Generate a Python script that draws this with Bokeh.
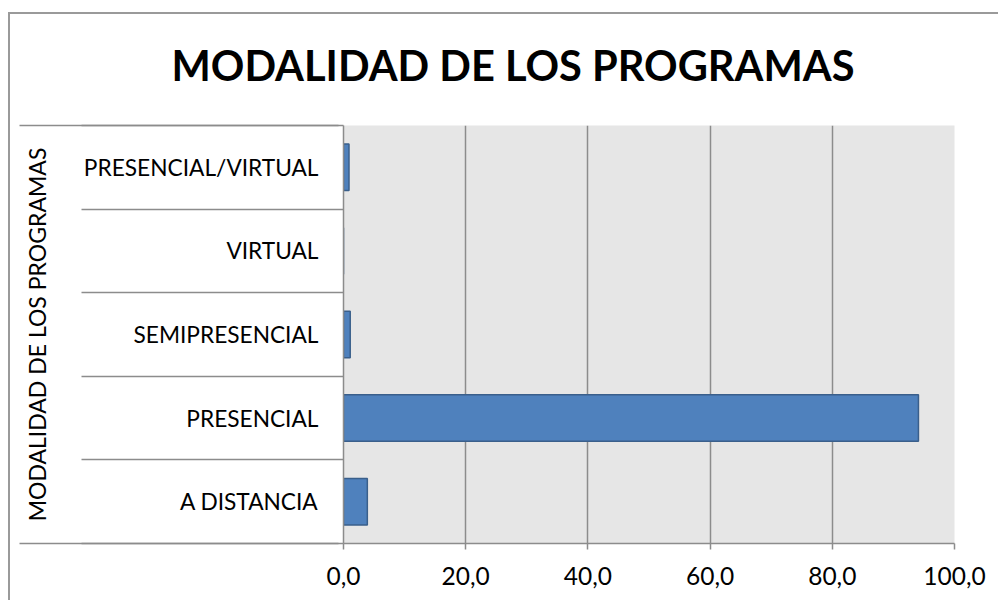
from bokeh.plotting import figure
from bokeh.models import Range1d, FixedTicker, LinearAxis, ColumnDataSource
from bokeh.embed import file_html
from bokeh.resources import INLINE

# ---- data ----
categories = ["A DISTANCIA", "PRESENCIAL", "SEMIPRESENCIAL", "VIRTUAL", "PRESENCIAL/VIRTUAL"]
values = [3.9, 94.1, 1.1, 0.0, 0.9]
x_ticks = [0, 20, 40, 60, 80, 100]
x_tick_labels = ["0,0", "20,0", "40,0", "60,0", "80,0", "100,0"]
chart_title = "MODALIDAD DE LOS PROGRAMAS"
y_axis_title = "MODALIDAD DE LOS PROGRAMAS"

positions = list(range(len(categories)))
boundaries = [i - 0.5 for i in range(len(categories) + 1)]

GRAY = "#8c8c8c"
FONT = "Lato"

p = figure(width=990, height=600,
           x_range=Range1d(x_ticks[0], x_ticks[-1]),
           y_range=Range1d(boundaries[0], boundaries[-1]),
           output_backend="svg", toolbar_location=None,
           min_border_left=335, min_border_right=44,
           min_border_top=125, min_border_bottom=57,
           title=chart_title)
# chart-area border (left and top edges) painted behind a transparent canvas border
p.styles = {
    "margin-left": "8px",
    "background-color": "white",
    "background-image": "linear-gradient(#9a9a9a, #9a9a9a), linear-gradient(#9a9a9a, #9a9a9a)",
    "background-size": "2px 100%, 100% 2px",
    "background-position": "0px 12px, 0px 12px",
    "background-repeat": "no-repeat",
}

p.background_fill_color = "#e6e6e6"
p.border_fill_color = None
p.outline_line_color = None

# title
p.title.text_font = FONT
p.title.text_font_style = "bold"
p.title.text_font_size = "41.6px"
p.title.text_color = "black"
p.title.align = "left"
p.title.offset = -172
p.title.standoff = 72

src = ColumnDataSource(dict(y=positions, right=values))
p.hbar(y="y", left=0, right="right", height=0.556, source=src,
       fill_color="#4f81bd", line_color="#3a5f8b", line_width=1.5)

# grid
p.xgrid.ticker = FixedTicker(ticks=x_ticks)
p.xgrid.grid_line_color = GRAY
p.xgrid.grid_line_width = 1.5
p.ygrid.grid_line_color = None

# x axis
xa = p.xaxis[0]
xa.ticker = FixedTicker(ticks=x_ticks)
xa.major_label_overrides = dict(zip(x_ticks, x_tick_labels))
xa.major_tick_out = 6
xa.major_tick_in = 0
xa.minor_tick_line_color = None
xa.axis_line_color = GRAY
xa.axis_line_width = 1.5
xa.major_tick_line_color = GRAY
xa.major_tick_line_width = 1.5
xa.major_label_standoff = 17
xa.major_label_text_font = FONT
xa.major_label_text_font_size = "24.5px"
xa.major_label_text_color = "black"

# y axis (category labels, separators as long minor ticks)
ya = p.yaxis[0]
ya.ticker = FixedTicker(ticks=positions, minor_ticks=boundaries)
ya.major_label_overrides = {i: c for i, c in zip(positions, categories)}
ya.major_tick_out = 0
ya.major_tick_in = 0
ya.minor_tick_out = 262
ya.minor_tick_in = 0
ya.minor_tick_line_color = GRAY
ya.minor_tick_line_width = 1.5
ya.axis_line_color = GRAY
ya.axis_line_width = 1.5
ya.major_label_standoff = -237
ya.major_label_text_font = FONT
ya.major_label_text_font_size = "22.7px"
ya.major_label_text_color = "black"
ya.axis_label = y_axis_title
ya.axis_label_text_font = FONT
ya.axis_label_text_font_style = "normal"
ya.axis_label_text_font_size = "23px"
ya.axis_label_text_color = "black"
ya.axis_label_standoff = 30

# outer axis: long top/bottom rules of the category block (minor ticks only, no labels)
outer = LinearAxis(ticker=FixedTicker(ticks=[], minor_ticks=[boundaries[0], boundaries[-1]]),
                   major_tick_out=0, major_tick_in=0,
                   minor_tick_out=0, minor_tick_in=319,
                   minor_tick_line_color=GRAY, minor_tick_line_width=1.5,
                   major_tick_line_color=None, axis_line_color=None)
p.add_layout(outer, "left")

open("out.html", "w").write(file_html(p, INLINE))
